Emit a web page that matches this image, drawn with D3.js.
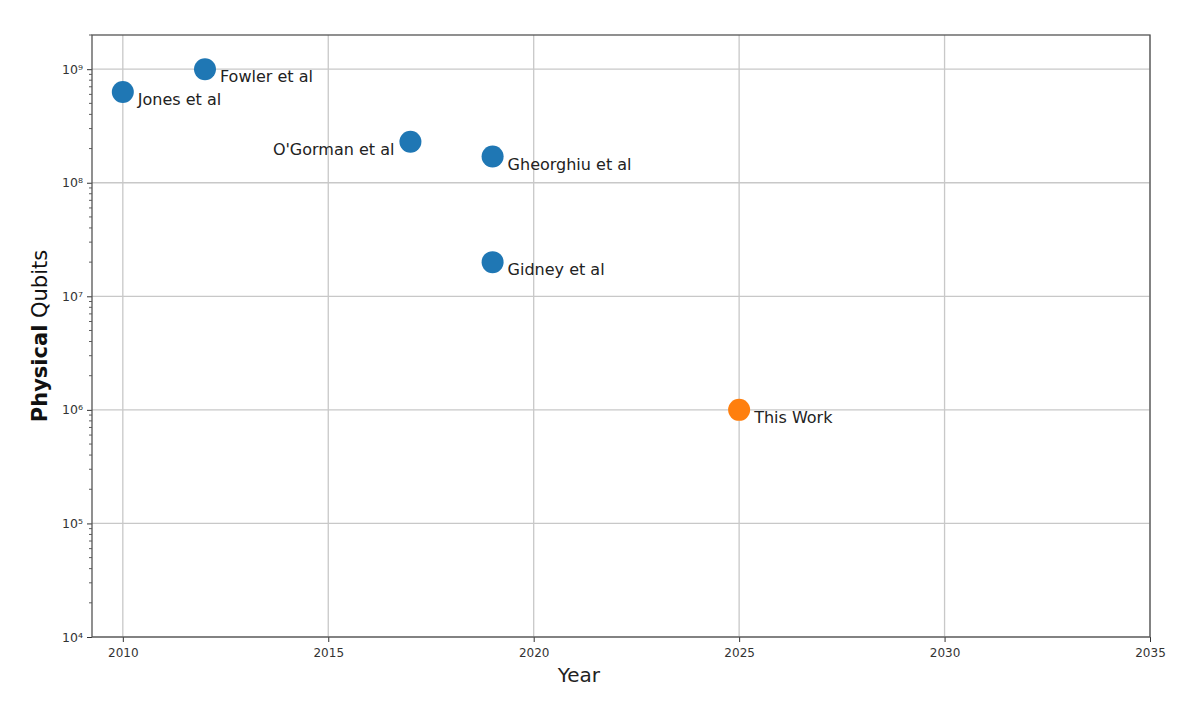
<!DOCTYPE html>
<html>
<head>
<meta charset="utf-8">
<script src="https://cdn.jsdelivr.net/npm/d3@7"></script>
<style>
  body { margin: 0; background: #fff; }
  text { font-family: "DejaVu Sans", sans-serif; }
  .tick text { fill: #333; }
</style>
</head>
<body>
<div id="chart"></div>
<script>
// data
var names = ["Jones et al", "Fowler et al", "O'Gorman et al", "Gheorghiu et al", "Gidney et al", "This Work"];
var years = [2010, 2012, 2017, 2019, 2019, 2025];
var qubits = [6.3e8, 1e9, 2.3e8, 1.7e8, 2e7, 1e6];
var groups = ["prior", "prior", "prior", "prior", "prior", "this"];
var xTicks = [2010, 2015, 2020, 2025, 2030, 2035];
var yTicks = [1e4, 1e5, 1e6, 1e7, 1e8, 1e9];

var svgWidth = 1200;
var svgHeight = 701;
var margin = { top: 35, right: 50, bottom: 64, left: 92 };
var width = svgWidth - margin.left - margin.right;
var height = svgHeight - margin.top - margin.bottom;

var points = names.map(function(n, i) {
  return { name: n, year: years[i], qubits: qubits[i], group: groups[i] };
});

var svg = d3.select("#chart").append("svg")
  .attr("width", svgWidth)
  .attr("height", svgHeight);

var chartGroup = svg.append("g")
  .attr("transform", `translate(${margin.left}, ${margin.top})`);

var xScale = d3.scaleLinear()
  .domain([2009.25, 2035])
  .range([0, width]);

var yScale = d3.scaleLog()
  .domain([1e4, 2e9])
  .range([height, 0]);

var color = d3.scaleOrdinal()
  .domain(["prior", "this"])
  .range(["#1f77b4", "#ff7f0e"]);

// grid lines
chartGroup.append("g")
  .selectAll("line.vgrid")
  .data(xTicks)
  .enter().append("line")
  .attr("x1", d => xScale(d)).attr("x2", d => xScale(d))
  .attr("y1", 0).attr("y2", height)
  .attr("stroke", "#c8c8c8").attr("stroke-width", 1.3);

chartGroup.append("g")
  .selectAll("line.hgrid")
  .data(yTicks)
  .enter().append("line")
  .attr("x1", 0).attr("x2", width)
  .attr("y1", d => yScale(d)).attr("y2", d => yScale(d))
  .attr("stroke", "#c8c8c8").attr("stroke-width", 1.3);

// x axis
var xAxis = chartGroup.append("g")
  .attr("transform", `translate(0, ${height})`)
  .call(d3.axisBottom(xScale).tickValues(xTicks).tickFormat(d3.format("d")).tickSize(5).tickPadding(6));
xAxis.selectAll("text").attr("font-size", 12);

// y axis, major ticks with superscript labels
var supers = { "0": "\u2070", "1": "\u00b9", "2": "\u00b2", "3": "\u00b3", "4": "\u2074", "5": "\u2075", "6": "\u2076", "7": "\u2077", "8": "\u2078", "9": "\u2079" };
var yAxis = chartGroup.append("g")
  .call(d3.axisLeft(yScale).tickValues(yTicks)
    .tickFormat(d => "10" + String(Math.round(Math.log10(d))).split("").map(c => supers[c]).join(""))
    .tickSize(5).tickPadding(4));
yAxis.selectAll("text").attr("font-size", 12.5);

// minor ticks
var minor = [];
yScale.ticks().forEach(function(t) {
  var m = t / Math.pow(10, Math.floor(Math.log10(t) + 1e-9));
  if (Math.round(m) !== 1 && t <= 2e9) minor.push(t);
});
chartGroup.append("g")
  .selectAll("line.minor")
  .data(minor)
  .enter().append("line")
  .attr("x1", -3).attr("x2", 0)
  .attr("y1", d => yScale(d)).attr("y2", d => yScale(d))
  .attr("stroke", "#333").attr("stroke-width", 0.8);

svg.selectAll(".domain").remove();
svg.selectAll(".tick line").attr("stroke", "#333");

// frame
chartGroup.append("rect")
  .attr("width", width).attr("height", height)
  .attr("fill", "none").attr("stroke", "#555").attr("stroke-width", 1.3);

// points
chartGroup.selectAll("circle")
  .data(points)
  .enter().append("circle")
  .attr("cx", d => xScale(d.year))
  .attr("cy", d => yScale(d.qubits))
  .attr("r", 11)
  .attr("fill", d => color(d.group));

// labels
var leftLabels = ["O'Gorman et al"];
chartGroup.selectAll("text.label")
  .data(points)
  .enter().append("text")
  .attr("class", "label")
  .attr("x", d => xScale(d.year) + (leftLabels.indexOf(d.name) >= 0 ? -16 : 15))
  .attr("y", d => yScale(d.qubits) + 13)
  .attr("text-anchor", d => leftLabels.indexOf(d.name) >= 0 ? "end" : "start")
  .attr("font-size", 16)
  .attr("fill", "#222")
  .text(d => d.name);

// axis titles
svg.append("text")
  .attr("x", margin.left + xScale(2021.1))
  .attr("y", 682)
  .attr("text-anchor", "middle")
  .attr("font-size", 20)
  .attr("fill", "#222")
  .text("Year");

var yTitle = svg.append("text")
  .attr("transform", `translate(47, ${margin.top + height / 2}) rotate(-90)`)
  .attr("text-anchor", "middle")
  .attr("font-size", 21)
  .attr("fill", "#111");
yTitle.append("tspan").attr("font-weight", "bold").text("Physical");
yTitle.append("tspan").text(" Qubits");
</script>
</body>
</html>
